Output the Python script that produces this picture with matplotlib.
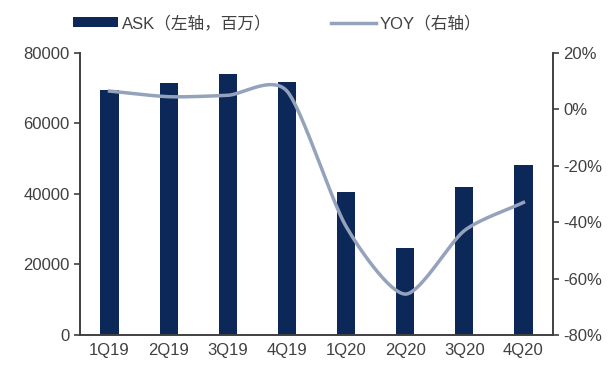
import numpy as np
import matplotlib
matplotlib.use("Agg")
import matplotlib.pyplot as plt
from matplotlib.ticker import FuncFormatter

plt.rcParams['font.family'] = ['Liberation Sans', 'Noto Sans CJK SC', 'DejaVu Sans']

quarters = ["1Q19", "2Q19", "3Q19", "4Q19", "1Q20", "2Q20", "3Q20", "4Q20"]
ask = [69500, 71500, 74000, 71800, 40600, 24700, 42000, 48200]
yoy = [6.5, 4.5, 5.0, 6.5, -41.5, -65.5, -43.0, -33.0]

bar_color = "#0b2859"
line_color = "#94a2bb"
axis_color = "#404040"
text_color = "#404040"


def cardinal_spline(xs, ys, tension=0.75, n=40):
    # smooth curve through every point, tangents scaled by `tension`
    xs = np.asarray(xs, float)
    ys = np.asarray(ys, float)
    px = np.concatenate([[2 * xs[0] - xs[1]], xs, [2 * xs[-1] - xs[-2]]])
    py = np.concatenate([[2 * ys[0] - ys[1]], ys, [2 * ys[-1] - ys[-2]]])
    out_x, out_y = [], []
    for i in range(1, len(px) - 2):
        t = np.linspace(0, 1, n, endpoint=(i == len(px) - 3))
        h00 = 2 * t**3 - 3 * t**2 + 1
        h10 = t**3 - 2 * t**2 + t
        h01 = -2 * t**3 + 3 * t**2
        h11 = t**3 - t**2
        for p, out in ((px, out_x), (py, out_y)):
            m1 = tension * (p[i + 1] - p[i - 1]) / 2
            m2 = tension * (p[i + 2] - p[i]) / 2
            out.extend(h00 * p[i] + h10 * m1 + h01 * p[i + 1] + h11 * m2)
    return np.array(out_x), np.array(out_y)


fig = plt.figure(figsize=(6.12, 3.67), dpi=100)
ax = fig.add_axes([0.1307, 0.0872, 0.7729, 0.7684])
ax2 = ax.twinx()

x = np.arange(len(quarters))
bars = ax.bar(x, ask, width=0.31, color=bar_color, label="ASK（左轴，百万）", zorder=2)
sx, sy = cardinal_spline(x, yoy)
line, = ax2.plot(sx, sy, color=line_color, lw=2.5, label="YOY（右轴）", zorder=3)

ax.set_xlim(-0.5, len(quarters) - 0.5)
ax.set_ylim(0, 80000)
ax.set_yticks(np.arange(0, 80001, 20000))
ax2.set_ylim(-80, 20)
ax2.set_yticks(np.arange(-80, 21, 20))
ax2.yaxis.set_major_formatter(FuncFormatter(lambda v, p: f"{int(v)}%"))

ax.set_xticks(x)
ax.set_xticklabels(quarters)

for a in (ax, ax2):
    a.spines["top"].set_visible(False)
    for s in ("left", "right", "bottom"):
        a.spines[s].set_color(axis_color)
        a.spines[s].set_linewidth(1.2)
    a.tick_params(axis="y", colors=axis_color, labelcolor=text_color,
                  labelsize=12, length=4, width=1.2, direction="out")
ax.tick_params(axis="x", length=0, labelsize=12, labelcolor=text_color, pad=6)

ax.set_zorder(ax2.get_zorder() - 1)
ax.patch.set_visible(False)

fig.legend(handles=[bars, line], loc="upper left", bbox_to_anchor=(0.095, 1.0),
           ncol=2, frameon=False, fontsize=12, columnspacing=3.6,
           handlelength=2.7, handleheight=0.5, handletextpad=0.2,
           labelcolor=text_color)

fig.savefig("out.png", dpi=100)
